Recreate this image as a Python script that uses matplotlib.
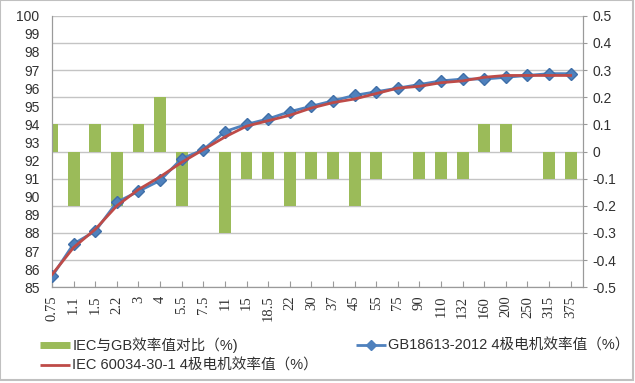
import matplotlib
matplotlib.use("Agg")
import matplotlib.pyplot as plt
from matplotlib.lines import Line2D
from matplotlib.patches import Rectangle
import numpy as np

plt.rcParams['font.family'] = ['Liberation Sans', 'Noto Sans CJK SC', 'DejaVu Sans']

power = ["0.75", "1.1", "1.5", "2.2", "3", "4", "5.5", "7.5", "11", "15", "18.5", "22",
         "30", "37", "45", "55", "75", "90", "110", "132", "160", "200", "250", "315", "375"]
gb = [85.6, 87.4, 88.1, 89.7, 90.3, 90.9, 92.1, 92.6, 93.6, 94.0, 94.3, 94.7,
      95.0, 95.3, 95.6, 95.8, 96.0, 96.2, 96.4, 96.5, 96.5, 96.6, 96.7, 96.8, 96.8]
iec = [85.7, 87.2, 88.2, 89.5, 90.4, 91.1, 91.9, 92.6, 93.3, 93.9, 94.2, 94.5,
       94.9, 95.2, 95.4, 95.7, 96.0, 96.1, 96.3, 96.4, 96.6, 96.7, 96.7, 96.7, 96.7]
diff = [0.1, -0.2, 0.1, -0.2, 0.1, 0.2, -0.2, 0.0, -0.3, -0.1, -0.1, -0.2,
        -0.1, -0.1, -0.2, -0.1, 0.0, -0.1, -0.1, -0.1, 0.1, 0.1, 0.0, -0.1, -0.1]

green = "#9BBB59"
blue = "#4F81BD"
red = "#BE4B48"
grid_c = "#c4c4c4"
spine_c = "#9a9a9a"
text_c = "#303030"

x = np.arange(len(power))

fig = plt.figure(figsize=(6.35, 3.83), dpi=100)
ax = fig.add_axes([52/635, 1 - 287.3/383, (583 - 52)/635, (287.3 - 15.7)/383])
ax2 = ax.twinx()

# bars on the right axis, lines on the left axis drawn on top
ax2.bar(x, diff, width=0.55, color=green, zorder=2)
ax2.set_ylim(-0.5, 0.5)
ax2.set_yticks(np.arange(-0.5, 0.51, 0.1))
ax2.set_yticklabels(["%g" % round(v, 1) if abs(v) > 1e-9 else "0" for v in np.arange(-0.5, 0.51, 0.1)])
ax2.yaxis.grid(True, color=grid_c, lw=1)
ax2.set_axisbelow(True)
ax2.tick_params(axis='y', length=3, direction='out', color=spine_c, pad=4, labelsize=10, labelcolor=text_c)

ax.set_zorder(ax2.get_zorder() + 1)
ax.patch.set_visible(False)
ax.plot(x, gb, color=blue, lw=2, marker='D', markersize=6.5, markerfacecolor=blue,
        markeredgecolor="#3f6fa8", zorder=3)
ax.plot(x, iec, color=red, lw=2, zorder=4)
ax.set_ylim(85, 100)
ax.set_yticks(range(85, 101))
ax.tick_params(axis='y', length=0, pad=9, labelsize=10, labelcolor=text_c)

ax.set_xlim(0, 24.57)
ax.set_xticks(x)
ax.set_xticklabels(power, rotation=90, family='Liberation Serif', fontsize=10.5, color=text_c)
ax.tick_params(axis='x', direction='in', length=4, color=spine_c, pad=6)
ax2.tick_params(axis='x', length=0)

for a in (ax, ax2):
    for s in a.spines.values():
        s.set_color(spine_c)
    a.spines['top'].set_visible(False)

handles = [Line2D([], [], color=green, lw=5, solid_capstyle='butt'),
           Line2D([], [], color=red, lw=2, solid_capstyle='butt'),
           Line2D([], [], color=blue, lw=2, marker='D', markersize=5, solid_capstyle='butt')]
labels = ["IEC与GB效率值对比（%)",
          "IEC 60034-30-1 4极电机效率值（%）",
          "GB18613-2012 4极电机效率值（%）"]
fig.legend(handles, labels, ncol=2, loc='upper left', bbox_to_anchor=(33/635, 1 - 330/383),
           frameon=False, borderpad=0, handlelength=2.05, handletextpad=0.15,
           columnspacing=2.6, labelspacing=0.4, fontsize=10.5, labelcolor=text_c)

fig.add_artist(Rectangle((0, 3/383), 633/635, 1 - 3/383, transform=fig.transFigure,
                         fill=False, ec="#c0c0c0", lw=1.5))

fig.savefig("out.png", dpi=100)
